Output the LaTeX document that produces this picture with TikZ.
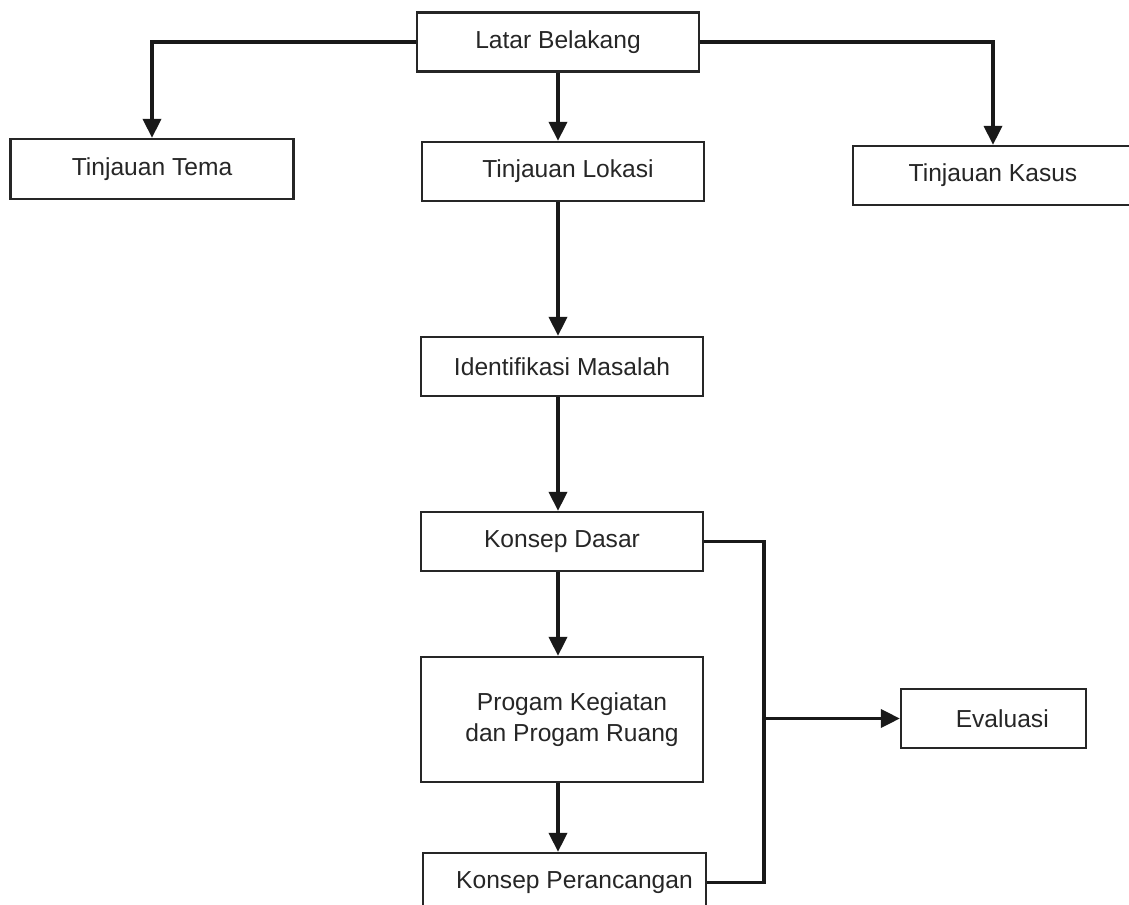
\documentclass[tikz,border=0pt]{standalone}
\usepackage{fontspec}
\setmainfont{Liberation Sans}
\usetikzlibrary{arrows.meta}

\begin{document}
\begin{tikzpicture}[x=0.02cm,y=-0.02cm,
	kotak/.style={draw=black!85,line width=1.3pt,rectangle,inner sep=0pt,
		minimum width=5.64cm,minimum height=1.18cm,align=center,
		font=\fontsize{14}{17.5}\selectfont,text=black!85},
	panah/.style={line width=2pt,draw=black!90,-{Triangle[length=0.38cm,width=0.36cm]}},
	garis/.style={line width=2pt,draw=black!90}]
		\useasboundingbox (0,0) rectangle (1129,905);
		\clip (0,0) rectangle (1129,905);

		\node[kotak] (lb) at (558,42) {Latar Belakang};
		\node[kotak,minimum width=5.66cm,minimum height=1.2cm] (tema) at (152,169) {Tinjauan Tema};
		\node[kotak] (lokasi) at (563,171.5) {\hspace*{0.2cm}Tinjauan Lokasi};
		\node[kotak,minimum width=5.6cm] (kasus) at (993,175.5) {Tinjauan Kasus};
		\node[kotak] (ident) at (562,366.5) {Identifikasi Masalah};
		\node[kotak] (dasar) at (562,541.5) {Konsep Dasar};
		\node[kotak,minimum height=2.5cm] (progam) at (562,719.5) {\hspace*{0.4cm}Progam Kegiatan\\\hspace*{0.4cm}dan Progam Ruang};
		\node[kotak,minimum width=5.66cm] (peranc) at (564.5,882.5) {\hspace*{0.4cm}Konsep Perancangan};
		\node[kotak,minimum width=3.7cm] (eval) at (993.5,718.5) {\hspace*{0.35cm}Evaluasi};

		\coordinate (gabung) at (764,718.5);

		\draw[panah] (lb.west) -| (tema.north);
		\draw[panah] (lb.east) -| (kasus.north);
		\draw[panah] (lb.south) -- (lb.south |- lokasi.north);
		\draw[panah] (lb.south |- lokasi.south) -- (lb.south |- ident.north);
		\draw[panah] (lb.south |- ident.south) -- (lb.south |- dasar.north);
		\draw[panah] (lb.south |- dasar.south) -- (lb.south |- progam.north);
		\draw[panah] (lb.south |- progam.south) -- (lb.south |- peranc.north);

		\draw[garis] (dasar.east) -| (gabung) |- (peranc.east);
		\draw[panah] (gabung) -- (eval.west);

	\end{tikzpicture}
\end{document}
